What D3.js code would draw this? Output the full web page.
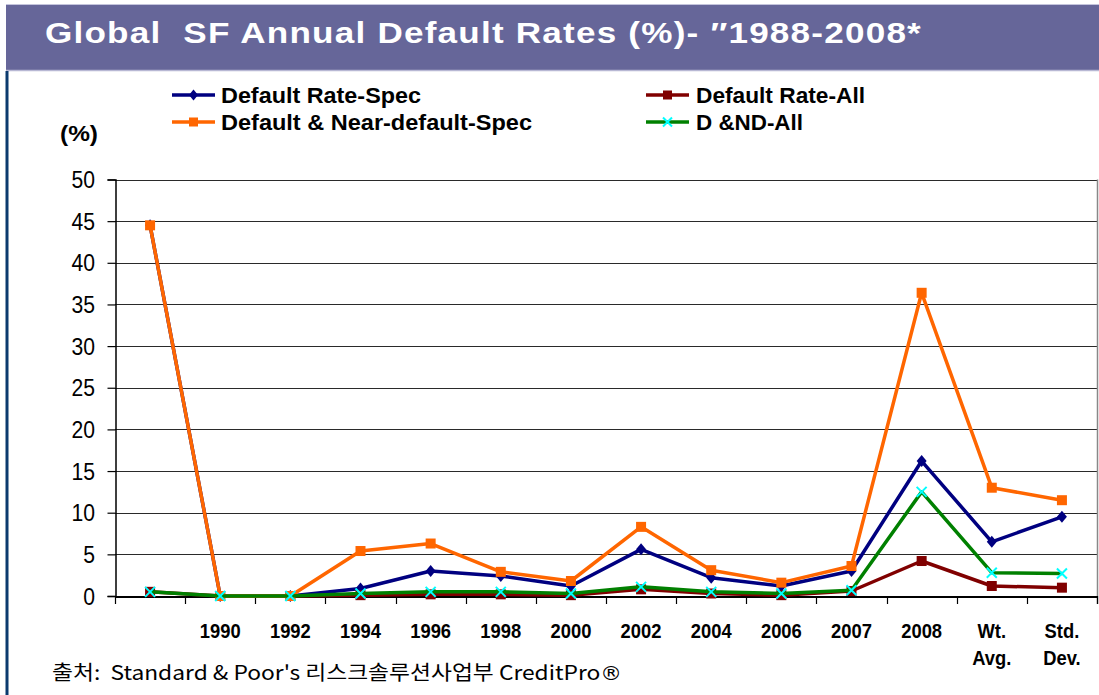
<!DOCTYPE html>
<html>
<head>
<meta charset="utf-8">
<script src="https://cdn.jsdelivr.net/npm/d3@7"></script>
<style>
  html, body { margin: 0; padding: 0; background: #ffffff; }
  svg { display: block; }
  text { white-space: pre; }
</style>
</head>
<body>
<svg id="chart" width="1099" height="695"></svg>
<script>
// ---------- data ----------
const categories = ["1988", "1990", "1992", "1994", "1996", "1998", "2000", "2002", "2004", "2006", "2007", "2008", "Wt. Avg.", "Std. Dev."];
const tickLabels = [[""], ["1990"], ["1992"], ["1994"], ["1996"], ["1998"], ["2000"], ["2002"], ["2004"], ["2006"], ["2007"], ["2008"], ["Wt.", "Avg."], ["Std.", "Dev."]];
const yTicks = [0, 5, 10, 15, 20, 25, 30, 35, 40, 45, 50];

const seriesNames = ["Default Rate-Spec", "Default Rate-All", "Default & Near-default-Spec", "D &ND-All"];
const defaultRateSpec = [44.5, 0, 0, 0.9, 3.0, 2.4, 1.2, 5.6, 2.2, 1.2, 3.0, 16.2, 6.5, 9.5];
const defaultRateAll  = [0.5, 0, 0, 0.1, 0.2, 0.2, 0.1, 0.8, 0.3, 0.1, 0.6, 4.2, 1.2, 1.0];
const dndSpec         = [44.5, 0, 0, 5.4, 6.3, 2.9, 1.8, 8.3, 3.1, 1.6, 3.6, 36.4, 13.0, 11.5];
const dndAll          = [0.5, 0, 0, 0.3, 0.5, 0.5, 0.3, 1.1, 0.5, 0.3, 0.7, 12.5, 2.8, 2.7];

const titleText = "Global  SF Annual Default Rates (%)- \u20331988-2008*";
const unitText = "(%)";
const sourceText = "출처:  Standard & Poor's 리스크솔루션사업부 CreditPro";
const sourceMark = "\u00AE";

// ---------- styles ----------
const series = [
  { name: seriesNames[0], values: defaultRateSpec, color: "#000080", marker: "diamond", mcolor: "#000080", width: 3.5 },
  { name: seriesNames[1], values: defaultRateAll,  color: "#800000", marker: "square",  mcolor: "#800000", width: 3.5 },
  { name: seriesNames[2], values: dndSpec,         color: "#FF6600", marker: "square",  mcolor: "#FF6600", width: 3.5 },
  { name: seriesNames[3], values: dndAll,          color: "#008000", marker: "x",       mcolor: "#00FFFF", width: 3.5 }
];

const svg = d3.select("#chart");
const W = 1099, H = 695;
const plot = { left: 115, right: 1097, top: 179.5, bottom: 596 };

// ---------- frame ----------
svg.append("rect").attr("x", 0).attr("y", 0).attr("width", W).attr("height", H).attr("fill", "#ffffff");
svg.append("rect").attr("x", 6).attr("y", 4).attr("width", W - 6).attr("height", 66).attr("fill", "#666699");
svg.append("line").attr("x1", 6).attr("x2", W).attr("y1", 4.5).attr("y2", 4.5).attr("stroke", "#c4c4dc").attr("stroke-width", 1);
svg.append("line").attr("x1", 6).attr("x2", W).attr("y1", 70.5).attr("y2", 70.5).attr("stroke", "#b8b8d4").attr("stroke-width", 1.5);
svg.append("rect").attr("x", 5.5).attr("y", 71).attr("width", 3).attr("height", H - 71).attr("fill", "#0b3a6e");

svg.append("text")
  .attr("x", 45).attr("y", 43)
  .attr("font-family", "Arial, 'Liberation Sans', sans-serif")
  .attr("font-weight", "bold").attr("font-size", 29)
  .attr("letter-spacing", 1)
  .attr("fill", "#ffffff")
  .attr("textLength", 877).attr("lengthAdjust", "spacingAndGlyphs")
  .text(titleText);

// ---------- scales ----------
const x = d3.scaleBand().domain(categories).range([plot.left, plot.right]).padding(0);
const y = d3.scaleLinear().domain([0, 50]).range([plot.bottom, plot.top]);
const cx = c => x(c) + x.bandwidth() / 2;

// gridlines
svg.append("g").selectAll("line").data(yTicks.filter(t => t > 0)).join("line")
  .attr("x1", plot.left).attr("x2", plot.right)
  .attr("y1", d => Math.round(y(d)) + 0.5).attr("y2", d => Math.round(y(d)) + 0.5)
  .attr("stroke", "#2a2a2a").attr("stroke-width", 1.2);

// right border
svg.append("line").attr("x1", plot.right + 0.5).attr("x2", plot.right + 0.5)
  .attr("y1", y(50)).attr("y2", plot.bottom + 8).attr("stroke", "#888").attr("stroke-width", 1.5);

// y axis
const yAxis = d3.axisLeft(y).tickValues(yTicks).tickSize(8).tickFormat("");
const yg = svg.append("g").attr("transform", `translate(${plot.left + 0.5},0)`).call(yAxis);
yg.select(".domain").attr("stroke", "#000").attr("stroke-width", 1.5);
yg.selectAll(".tick line").attr("stroke", "#000").attr("stroke-width", 1.2);

svg.append("g").selectAll("text").data(yTicks).join("text")
  .attr("transform", d => `translate(95,${y(d) + 8.5}) scale(0.88,1)`)
  .attr("text-anchor", "end")
  .attr("font-family", "Arial, 'Liberation Sans', sans-serif")
  .attr("font-size", 24).attr("fill", "#000")
  .text(d => d);

// x axis
const xAxis = d3.axisBottom(x).tickSize(0).tickFormat("");
const xg = svg.append("g").attr("transform", `translate(0,${plot.bottom + 0.5})`).call(xAxis);
xg.select(".domain").attr("stroke", "#000").attr("stroke-width", 1.8);
const boundaries = categories.map(c => x(c)).concat([plot.right]);
svg.append("g").selectAll("line").data(boundaries).join("line")
  .attr("x1", d => Math.round(d) + 0.5).attr("x2", d => Math.round(d) + 0.5)
  .attr("y1", plot.bottom).attr("y2", plot.bottom + 8)
  .attr("stroke", "#000").attr("stroke-width", 1.2);

const xl = svg.append("g").selectAll("g").data(categories).join("g")
  .attr("transform", (d) => `translate(${cx(d)},0)`);
xl.each(function (d, i) {
  const g = d3.select(this);
  tickLabels[i].forEach((lab, j) => {
    g.append("text")
      .attr("transform", `translate(0,${638 + j * 27}) scale(0.92,1)`)
      .attr("text-anchor", "middle")
      .attr("font-family", "Arial, 'Liberation Sans', sans-serif")
      .attr("font-weight", "bold").attr("font-size", 20).attr("fill", "#000")
      .text(lab);
  });
});

// ---------- marker ----------
function drawMarker(g, type, px, py, color, size) {
  const s = size / 2;
  if (type === "diamond") {
    g.append("path").attr("d", `M${px},${py - s - 1}L${px + s},${py}L${px},${py + s + 1}L${px - s},${py}Z`).attr("fill", color);
  } else if (type === "square") {
    g.append("rect").attr("x", px - s).attr("y", py - s).attr("width", size).attr("height", size).attr("fill", color);
  } else if (type === "x") {
    g.append("path").attr("d", `M${px - s},${py - s}L${px + s},${py + s}M${px - s},${py + s}L${px + s},${py - s}`)
      .attr("stroke", color).attr("stroke-width", 2).attr("fill", "none");
  }
}

// ---------- lines ----------
const line = d3.line().x((d, i) => cx(categories[i])).y(d => y(d));
series.forEach(s => {
  const g = svg.append("g");
  g.append("path").attr("d", line(s.values)).attr("fill", "none")
    .attr("stroke", s.color).attr("stroke-width", s.width).attr("stroke-linejoin", "round");
  s.values.forEach((v, i) => drawMarker(g, s.marker, cx(categories[i]), y(v), s.mcolor, 10));
});

// ---------- legend ----------
const legendPos = [
  { lx: 172, tx: 221, y: 95, len: 200 },
  { lx: 646, tx: 696, y: 95, len: 169 },
  { lx: 172, tx: 221, y: 122, len: 311 },
  { lx: 646, tx: 696, y: 122, len: 107 }
];
series.forEach((s, i) => {
  const p = legendPos[i];
  const g = svg.append("g");
  g.append("line").attr("x1", p.lx).attr("x2", p.lx + 43).attr("y1", p.y).attr("y2", p.y)
    .attr("stroke", s.color).attr("stroke-width", 3.5);
  drawMarker(g, s.marker, p.lx + 21.5, p.y, s.mcolor, 9);
  g.append("text").attr("x", p.tx).attr("y", p.y + 8)
    .attr("font-family", "Arial, 'Liberation Sans', sans-serif")
    .attr("font-weight", "bold").attr("font-size", 22).attr("fill", "#000")
    .attr("textLength", p.len).attr("lengthAdjust", "spacingAndGlyphs")
    .text(s.name);
});

svg.append("text").attr("x", 60).attr("y", 141)
  .attr("font-family", "Arial, 'Liberation Sans', sans-serif")
  .attr("font-weight", "bold").attr("font-size", 22).attr("fill", "#000")
  .attr("textLength", 38).attr("lengthAdjust", "spacingAndGlyphs")
  .text(unitText);

// ---------- source ----------
const src = svg.append("text").attr("x", 52).attr("y", 680)
  .attr("font-family", "'Noto Sans CJK KR', 'Noto Sans', sans-serif")
  .attr("font-size", 20).attr("fill", "#000")
  .attr("textLength", 570).attr("lengthAdjust", "spacingAndGlyphs");
src.append("tspan").text(sourceText);
src.append("tspan").attr("font-family", "'DejaVu Sans', sans-serif").attr("font-size", 19).text(sourceMark);
</script>
</body>
</html>
